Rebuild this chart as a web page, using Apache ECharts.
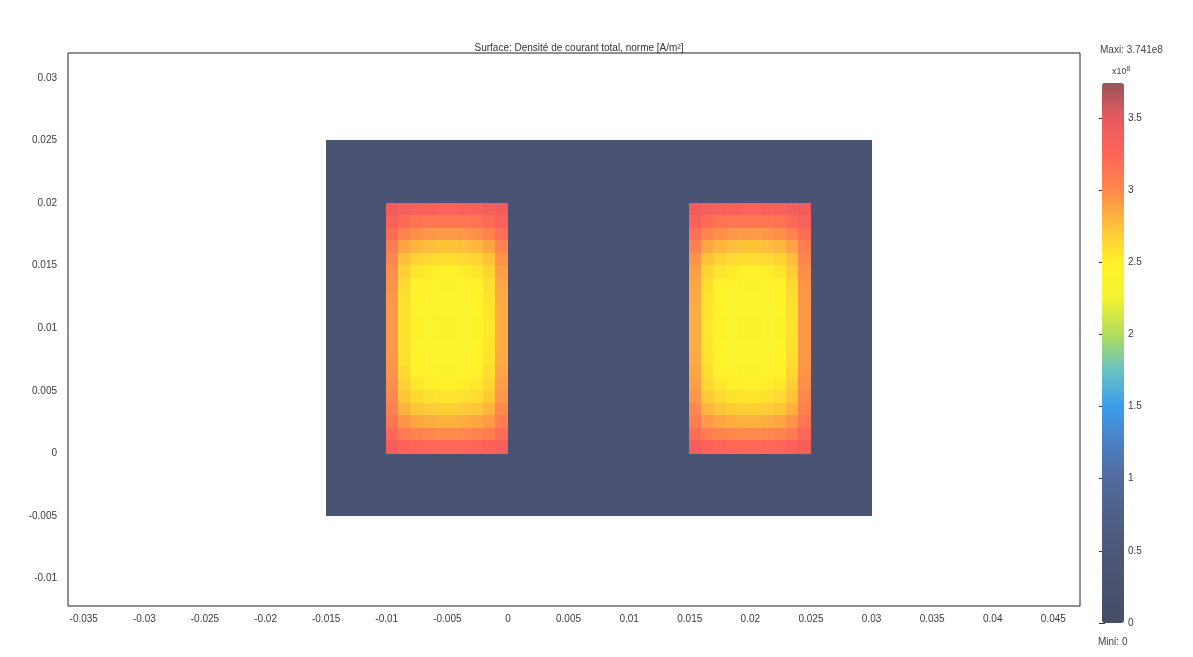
<!DOCTYPE html>
<html>
<head>
<meta charset="utf-8">
<title>Densité de courant total</title>
<script src="https://cdn.jsdelivr.net/npm/echarts@6/dist/echarts.min.js"></script>
<style>
  html, body { margin: 0; padding: 0; background: #ffffff; }
  #chart { width: 1193px; height: 657px; }
</style>
</head>
<body>
<div id="chart"></div>
<script>
// Axis ticks (m)
const xTicks = [-0.035, -0.03, -0.025, -0.02, -0.015, -0.01, -0.005, 0, 0.005, 0.01, 0.015, 0.02, 0.025, 0.03, 0.035, 0.04, 0.045];
const yTicks = [-0.01, -0.005, 0, 0.005, 0.01, 0.015, 0.02, 0.025, 0.03];
const xRange = [-0.0363, 0.0472];
const yRange = [-0.0122, 0.032];

// Colour scale (x10^8 A/m²), colours evenly spread from min to max
const jMin = 0;
const jMax = 3.741;
const colorTicks = [0, 0.5, 1, 1.5, 2, 2.5, 3, 3.5];
const palette = ['#474d66', '#4a5270', '#4c5879', '#4f6088', '#526a9c', '#4b80c4', '#3c9cec', '#66c2c4',
                 '#b0dc5c', '#f2f432', '#fff22a', '#ffc23a', '#ff8a4c', '#ff6458', '#e85a5e', '#985458'];

// Magnetic core (x, y extents in m) and its current density
const coreX = [-0.015, 0.03];
const coreY = [-0.005, 0.025];
const coreJ = 0.3;

// Winding windows (x, y extents in m)
const coilLeftX = [-0.01, 0];
const coilLeftY = [0, 0.02];
const coilRightX = [0.015, 0.025];
const coilRightY = [0, 0.02];

// Current density in the left winding, rows from top to bottom (x10^8 A/m²)
const coilLeftJ = [
  [3.42, 3.36, 3.32, 3.30, 3.29, 3.29, 3.30, 3.32, 3.36, 3.42],
  [3.30, 3.20, 3.15, 3.12, 3.11, 3.11, 3.12, 3.15, 3.20, 3.30],
  [3.18, 3.04, 2.97, 2.94, 2.92, 2.92, 2.94, 2.97, 3.03, 3.16],
  [3.08, 2.88, 2.80, 2.76, 2.74, 2.74, 2.76, 2.80, 2.87, 3.04],
  [3.01, 2.76, 2.66, 2.62, 2.60, 2.60, 2.62, 2.66, 2.74, 2.95],
  [2.97, 2.68, 2.56, 2.52, 2.50, 2.50, 2.52, 2.56, 2.65, 2.90],
  [2.95, 2.63, 2.50, 2.46, 2.44, 2.44, 2.46, 2.50, 2.60, 2.87],
  [2.94, 2.60, 2.47, 2.43, 2.41, 2.41, 2.43, 2.47, 2.57, 2.85],
  [2.93, 2.59, 2.45, 2.41, 2.39, 2.39, 2.41, 2.45, 2.56, 2.84],
  [2.93, 2.58, 2.44, 2.40, 2.38, 2.38, 2.40, 2.44, 2.55, 2.84],
  [2.93, 2.58, 2.44, 2.40, 2.38, 2.38, 2.40, 2.44, 2.55, 2.84],
  [2.93, 2.59, 2.45, 2.41, 2.39, 2.39, 2.41, 2.45, 2.56, 2.84],
  [2.94, 2.60, 2.47, 2.43, 2.41, 2.41, 2.43, 2.47, 2.57, 2.85],
  [2.95, 2.63, 2.50, 2.46, 2.44, 2.44, 2.46, 2.50, 2.60, 2.87],
  [2.97, 2.67, 2.55, 2.51, 2.49, 2.49, 2.51, 2.55, 2.64, 2.90],
  [3.00, 2.73, 2.62, 2.58, 2.56, 2.56, 2.58, 2.62, 2.70, 2.94],
  [3.05, 2.82, 2.73, 2.69, 2.67, 2.67, 2.69, 2.73, 2.80, 3.00],
  [3.12, 2.95, 2.87, 2.84, 2.82, 2.82, 2.84, 2.87, 2.93, 3.08],
  [3.22, 3.09, 3.03, 3.00, 2.99, 2.99, 3.00, 3.03, 3.08, 3.19],
  [3.36, 3.28, 3.24, 3.22, 3.21, 3.21, 3.22, 3.24, 3.28, 3.34]
];

// Current density in the right winding, rows from top to bottom (x10^8 A/m²)
const coilRightJ = [
  [3.42, 3.36, 3.32, 3.30, 3.29, 3.29, 3.30, 3.32, 3.36, 3.43],
  [3.30, 3.20, 3.15, 3.12, 3.11, 3.11, 3.12, 3.15, 3.21, 3.31],
  [3.16, 3.03, 2.97, 2.94, 2.92, 2.92, 2.94, 2.97, 3.04, 3.18],
  [3.04, 2.87, 2.80, 2.76, 2.74, 2.74, 2.76, 2.80, 2.88, 3.08],
  [2.95, 2.74, 2.66, 2.62, 2.60, 2.60, 2.62, 2.66, 2.76, 3.01],
  [2.90, 2.65, 2.56, 2.52, 2.50, 2.50, 2.52, 2.56, 2.68, 2.97],
  [2.87, 2.60, 2.50, 2.46, 2.44, 2.44, 2.46, 2.50, 2.63, 2.95],
  [2.85, 2.57, 2.47, 2.43, 2.41, 2.41, 2.43, 2.47, 2.60, 2.94],
  [2.84, 2.56, 2.45, 2.41, 2.39, 2.39, 2.41, 2.45, 2.59, 2.93],
  [2.84, 2.55, 2.44, 2.40, 2.38, 2.38, 2.40, 2.44, 2.58, 2.93],
  [2.84, 2.55, 2.44, 2.40, 2.38, 2.38, 2.40, 2.44, 2.58, 2.93],
  [2.84, 2.56, 2.45, 2.41, 2.39, 2.39, 2.41, 2.45, 2.59, 2.93],
  [2.85, 2.57, 2.47, 2.43, 2.41, 2.41, 2.43, 2.47, 2.60, 2.94],
  [2.87, 2.60, 2.50, 2.46, 2.44, 2.44, 2.46, 2.50, 2.63, 2.95],
  [2.90, 2.64, 2.55, 2.51, 2.49, 2.49, 2.51, 2.55, 2.67, 2.97],
  [2.94, 2.70, 2.62, 2.58, 2.56, 2.56, 2.58, 2.62, 2.73, 3.00],
  [3.00, 2.80, 2.73, 2.69, 2.67, 2.67, 2.69, 2.73, 2.82, 3.05],
  [3.08, 2.93, 2.87, 2.84, 2.82, 2.82, 2.84, 2.87, 2.95, 3.12],
  [3.19, 3.08, 3.03, 3.00, 2.99, 2.99, 3.00, 3.03, 3.09, 3.22],
  [3.34, 3.28, 3.24, 3.22, 3.21, 3.21, 3.22, 3.24, 3.28, 3.36]
];

// Cells as [x0, x1, y0, y1, J]
function gridCells(xr, yr, rows) {
  const out = [];
  const nr = rows.length;
  for (let r = 0; r < nr; r++) {
    const nc = rows[r].length;
    const y1 = yr[1] - (yr[1] - yr[0]) * r / nr;
    const y0 = yr[1] - (yr[1] - yr[0]) * (r + 1) / nr;
    for (let c = 0; c < nc; c++) {
      const x0 = xr[0] + (xr[1] - xr[0]) * c / nc;
      const x1 = xr[0] + (xr[1] - xr[0]) * (c + 1) / nc;
      out.push([x0, x1, y0, y1, rows[r][c]]);
    }
  }
  return out;
}

const surfaceCells = [[coreX[0], coreX[1], coreY[0], coreY[1], coreJ]]
  .concat(gridCells(coilLeftX, coilLeftY, coilLeftJ))
  .concat(gridCells(coilRightX, coilRightY, coilRightJ));

function renderCell(params, api) {
  const a = api.coord([api.value(0), api.value(3)]);
  const b = api.coord([api.value(1), api.value(2)]);
  const x = Math.floor(a[0]), y = Math.floor(a[1]);
  return {
    type: 'rect',
    shape: { x: x, y: y, width: Math.ceil(b[0]) - x, height: Math.ceil(b[1]) - y },
    style: { fill: api.visual('color') }
  };
}

const fmt = v => String(+(+v).toFixed(4));
const font = 'Liberation Sans';
const txt = '#3a3a3a';

const chart = echarts.init(document.getElementById('chart'), null, { renderer: 'canvas' });
chart.setOption({
  backgroundColor: '#ffffff',
  animation: false,
  textStyle: { fontFamily: font },
  title: {
    text: 'Surface: Densité de courant total, norme [A/m²]',
    left: 574, top: 38, textAlign: 'center',
    textStyle: { fontSize: 10, fontWeight: 'normal', color: '#333', fontFamily: font }
  },
  grid: [
    { left: 68, top: 53, width: 1012, height: 553, show: true, borderColor: '#222', borderWidth: 1, backgroundColor: '#ffffff' },
    { left: 1102, top: 83, width: 22, height: 540 }
  ],
  xAxis: [
    {
      type: 'value', gridIndex: 0, min: xRange[0], max: xRange[1],
      axisLine: { show: false }, axisTick: { show: false }, splitLine: { show: false },
      axisLabel: { customValues: xTicks, formatter: fmt, color: txt, fontSize: 10, margin: 8, fontFamily: font }
    },
    { type: 'value', gridIndex: 1, min: 0, max: 1, show: false }
  ],
  yAxis: [
    {
      type: 'value', gridIndex: 0, min: yRange[0], max: yRange[1],
      axisLine: { show: false }, axisTick: { show: false }, splitLine: { show: false },
      axisLabel: { customValues: yTicks, formatter: fmt, color: txt, fontSize: 10, margin: 11, fontFamily: font }
    },
    {
      type: 'value', gridIndex: 1, position: 'right', min: jMin, max: jMax,
      axisLine: { show: false }, splitLine: { show: false },
      axisTick: { show: true, customValues: colorTicks, length: 3, lineStyle: { color: '#333' } },
      axisLabel: { customValues: colorTicks, formatter: fmt, color: txt, fontSize: 10, margin: 4, fontFamily: font }
    },
    {
      type: 'value', gridIndex: 1, position: 'left', min: jMin, max: jMax,
      axisLine: { show: false }, splitLine: { show: false },
      axisTick: { show: true, customValues: colorTicks, length: 3, lineStyle: { color: '#333' } },
      axisLabel: { show: false }
    }
  ],
  visualMap: {
    type: 'continuous',
    min: jMin, max: jMax,
    dimension: 4,
    seriesIndex: 0,
    calculable: false,
    hoverLink: false,
    left: 1102, top: 83,
    itemWidth: 22, itemHeight: 540,
    padding: 0,
    text: null,
    inRange: { color: palette }
  },
  graphic: [
    {
      type: 'text', left: 1100, top: 45,
      style: { text: 'Maxi: 3.741e8', fontSize: 10, fill: '#444', fontFamily: font }
    },
    {
      type: 'text', left: 1112, top: 66,
      style: {
        text: 'x10{s|8}', fontSize: 9, fill: '#444', fontFamily: font,
        rich: { s: { fontSize: 7, verticalAlign: 'top', padding: [0, 0, 5, 0], fill: '#444' } }
      }
    },
    {
      type: 'text', left: 1098, top: 637,
      style: { text: 'Mini: 0', fontSize: 10, fill: '#444', fontFamily: font }
    }
  ],
  series: [
    {
      type: 'custom',
      name: 'J',
      coordinateSystem: 'cartesian2d',
      xAxisIndex: 0, yAxisIndex: 0,
      clip: true,
      renderItem: renderCell,
      encode: { x: [0, 1], y: [2, 3] },
      data: surfaceCells
    }
  ]
});
</script>
</body>
</html>
